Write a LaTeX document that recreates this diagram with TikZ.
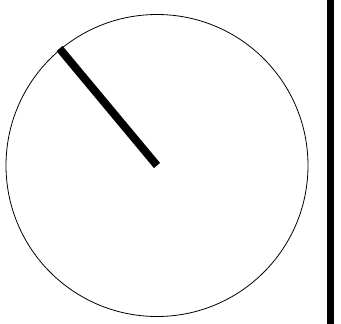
\documentclass[tikz,border=0pt]{standalone}
\begin{document}
\begin{tikzpicture}[x=1pt,y=-1pt,
  dial/.style={draw=black,line width=0.8pt},
  needle/.style={draw=black,line width=8pt,line cap=butt},
  bar/.style={fill=black}]
\useasboundingbox (0,0) rectangle (341,324);
\coordinate (c) at (157,165.5);
\coordinate (tip) at (59.5,48.5);
\draw[dial] (c) circle[radius=151];
\draw[needle] (c) -- (tip);
\fill[bar] (326.5,0) rectangle (334,324);
\end{tikzpicture}
\end{document}
